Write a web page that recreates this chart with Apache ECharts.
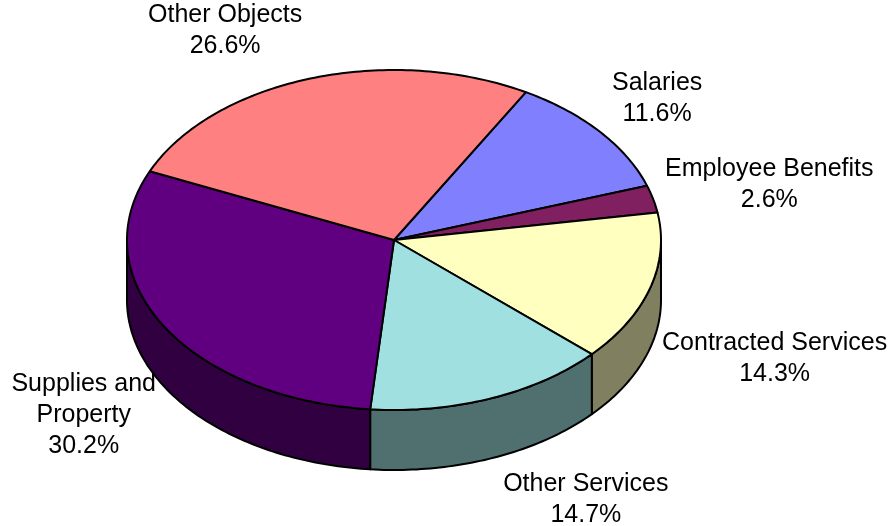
<!DOCTYPE html>
<html>
<head>
<meta charset="utf-8">
<script src="https://cdn.jsdelivr.net/npm/echarts@6/dist/echarts.min.js"></script>
<style>
  html, body { margin: 0; padding: 0; background: #ffffff; }
  #chart { width: 890px; height: 526px; }
</style>
</head>
<body>
<div id="chart"></div>
<script>
// Budget breakdown by object of expenditure
const categories = ['Salaries', 'Employee Benefits', 'Contracted Services', 'Other Services', 'Supplies and\nProperty', 'Other Objects'];
const shares = [11.6, 2.6, 14.3, 14.7, 30.2, 26.6];
const topColors = ['#8080FF', '#802060', '#FFFFC0', '#A0E0E0', '#600080', '#FF8080'];
const sideColors = ['#404080', '#401030', '#808060', '#507070', '#300040', '#804040'];

// Drawing geometry of the tilted disc
const START_DEG = 60.4;           // first slice edge, counter-clockwise from 3 o'clock
const GEO = { cx: 394, cy: 240, rx: 267, ry: 170, depth: 60 };
const FONT_SIZE = 25;
const LINE_H = 31;
const FONT = FONT_SIZE + 'px "Liberation Sans", Arial, sans-serif';

const total = shares.reduce((a, b) => a + b, 0);
const slices = [];
(function () {
  let cum = 0;
  shares.forEach((v, i) => {
    const a1 = START_DEG - cum / total * 360;
    const a2 = a1 - v / total * 360;
    slices.push({ a1, a2, mid: (a1 + a2) / 2 });
    cum += v;
  });
})();

function pt(deg, dz) {
  const t = deg * Math.PI / 180;
  return [GEO.cx + GEO.rx * Math.cos(t), GEO.cy - GEO.ry * Math.sin(t) + dz];
}
function arc(from, to, dz) {
  const n = Math.max(2, Math.ceil(Math.abs(from - to)));
  const out = [];
  for (let k = 0; k <= n; k++) out.push(pt(from + (to - from) * k / n, dz));
  return out;
}

const measureCtx = document.createElement('canvas').getContext('2d');
measureCtx.font = FONT;
function textWidth(s) {
  return Math.max.apply(null, s.split('\n').map(l => measureCtx.measureText(l).width));
}

const lineStyle = { stroke: '#000', lineWidth: 2, lineJoin: 'round' };

function renderWalls(params) {
  const s = slices[params.dataIndex];
  const children = [];
  // visible outer wall lies on the front half, angles -180..0
  [-360, 0, 360].forEach(off => {
    const hi = Math.min(s.a1, off);
    const lo = Math.max(s.a2, off - 180);
    if (hi > lo) {
      const pts = arc(hi, lo, 0).concat(arc(lo, hi, GEO.depth));
      children.push({
        type: 'polygon',
        shape: { points: pts },
        style: Object.assign({ fill: sideColors[params.dataIndex] }, lineStyle)
      });
    }
  });
  return { type: 'group', children };
}

function renderTops(params) {
  const i = params.dataIndex;
  const s = slices[i];
  const pts = [[GEO.cx, GEO.cy]].concat(arc(s.a1, s.a2, 0));
  const text = categories[i] + '\n' + shares[i].toFixed(1) + '%';
  const lines = text.split('\n').length;
  const halfW = textWidth(text) / 2;
  const halfH = lines * LINE_H / 2;
  const m = s.mid * Math.PI / 180;
  const sinM = Math.sin(m), cosM = Math.cos(m);
  const anchor = pt(s.mid, sinM < 0 ? GEO.depth : 0);
  const lx = anchor[0] + Math.sign(cosM) * (halfW + (cosM < 0 ? 8 : 12));
  const ly = anchor[1] - sinM * (halfH + 16) - 3;
  return {
    type: 'group',
    children: [
      {
        type: 'polygon',
        shape: { points: pts },
        style: Object.assign({ fill: topColors[i] }, lineStyle)
      },
      {
        type: 'text',
        style: {
          text: text, x: lx, y: ly,
          align: 'center', verticalAlign: 'middle',
          font: FONT, lineHeight: LINE_H, fill: '#000'
        }
      }
    ]
  };
}

const chart = echarts.init(document.getElementById('chart'));
chart.setOption({
  backgroundColor: '#ffffff',
  animation: false,
  series: [
    {
      type: 'custom', coordinateSystem: 'none', z: 1,
      data: shares.map((v, i) => [i, v]),
      renderItem: renderWalls
    },
    {
      type: 'custom', coordinateSystem: 'none', z: 2,
      data: shares.map((v, i) => [i, v]),
      renderItem: renderTops
    }
  ]
});
</script>
</body>
</html>
